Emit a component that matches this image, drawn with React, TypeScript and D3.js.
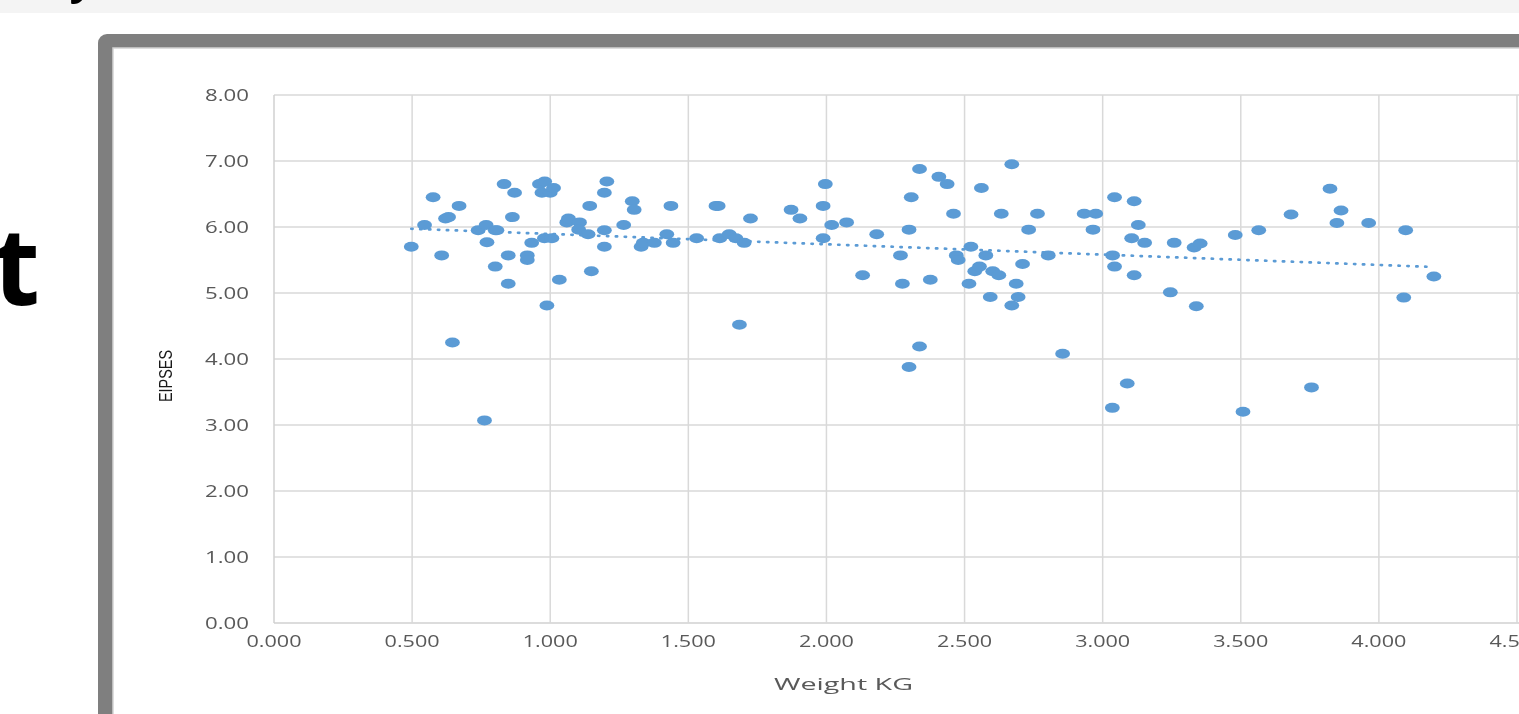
import React, { useEffect, useRef } from 'react';
import * as d3 from 'd3';

// Weight (kg) and EIPSES score for each case
const weightKg = [
  0.497, 0.545, 0.576, 0.607, 0.621, 0.632, 0.646, 0.670, 0.739, 0.768,
  0.771, 0.762, 0.801, 0.807, 0.801, 0.833, 0.848, 0.848, 0.863, 0.871,
  0.917, 0.917, 0.933, 0.961, 0.980, 0.970, 1.000, 1.012, 0.988, 0.979,
  1.006, 1.033, 1.060, 1.066, 1.106, 1.103, 1.137, 1.143, 1.149, 1.196,
  1.205, 1.196, 1.196, 1.266, 1.297, 1.304, 1.329, 1.337, 1.377, 1.422,
  1.437, 1.445, 1.530, 1.600, 1.608, 1.614, 1.648, 1.672, 1.685, 1.702,
  1.725, 1.872, 1.904, 1.996, 1.988, 1.988, 2.019, 2.073, 2.131, 2.182,
  2.268, 2.275, 2.307, 2.299, 2.299, 2.337, 2.337, 2.376, 2.407, 2.437,
  2.460, 2.470, 2.477, 2.516, 2.523, 2.537, 2.554, 2.561, 2.577, 2.593,
  2.602, 2.624, 2.633, 2.671, 2.671, 2.687, 2.694, 2.710, 2.732, 2.764,
  2.803, 2.855, 2.933, 2.975, 2.965, 3.035, 3.036, 3.043, 3.043, 3.089,
  3.105, 3.114, 3.114, 3.129, 3.152, 3.245, 3.259, 3.331, 3.353, 3.339,
  3.480, 3.508, 3.565, 3.682, 3.756, 3.823, 3.848, 3.863, 3.963, 4.090,
  4.097, 4.199
];

const eipses = [
  5.70, 6.03, 6.45, 5.57, 6.13, 6.15, 4.25, 6.32, 5.95, 6.03,
  5.77, 3.07, 5.95, 5.95, 5.40, 6.65, 5.57, 5.14, 6.15, 6.52,
  5.57, 5.50, 5.76, 6.65, 6.69, 6.52, 6.52, 6.59, 4.81, 5.83,
  5.83, 5.20, 6.07, 6.13, 6.07, 5.96, 5.89, 6.32, 5.33, 6.52,
  6.69, 5.95, 5.70, 6.03, 6.39, 6.26, 5.70, 5.76, 5.76, 5.89,
  6.32, 5.76, 5.83, 6.32, 6.32, 5.83, 5.89, 5.83, 4.52, 5.76,
  6.13, 6.26, 6.13, 6.65, 6.32, 5.83, 6.03, 6.07, 5.27, 5.89,
  5.57, 5.14, 6.45, 5.96, 3.88, 6.88, 4.19, 5.20, 6.76, 6.65,
  6.20, 5.57, 5.50, 5.14, 5.70, 5.33, 5.40, 6.59, 5.57, 4.94,
  5.33, 5.27, 6.20, 6.95, 4.81, 5.14, 4.94, 5.44, 5.96, 6.20,
  5.57, 4.08, 6.20, 6.20, 5.96, 3.26, 5.57, 6.45, 5.40, 3.63,
  5.83, 6.39, 5.27, 6.03, 5.76, 5.01, 5.76, 5.69, 5.75, 4.80,
  5.88, 3.20, 5.95, 6.19, 3.57, 6.58, 6.06, 6.25, 6.06, 4.93,
  5.95, 5.25
];

const xTicks = [0, 0.5, 1, 1.5, 2, 2.5, 3, 3.5, 4, 4.5];
const yTicks = [0, 1, 2, 3, 4, 5, 6, 7, 8];
const xTitle = 'Weight KG';
const yTitle = 'EIPSES';

const BLUE = '#5b9bd5';
const GRID = '#d9d9d9';
const LABEL = '#595959';

function App() {
  const ref = useRef(null);

  useEffect(() => {
    const svg = d3.select(ref.current);
    svg.selectAll('*').remove();

    // slide background bits
    svg.append('rect').attr('width', 1519).attr('height', 714).attr('fill', '#fff');
    svg.append('rect').attr('width', 1519).attr('height', 13).attr('fill', '#f4f4f4');
    svg.append('text')
      .attr('x', 74).attr('y', -6)
      .attr('font-family', 'Open Sans, sans-serif').attr('font-weight', 700)
      .attr('font-style', 'italic').attr('font-size', 42)
      .text('y');
    svg.append('text')
      .attr('x', 40).attr('y', 305)
      .attr('text-anchor', 'end')
      .attr('font-family', 'Open Sans, sans-serif').attr('font-weight', 700)
      .attr('font-size', 108)
      .text('t');

    // grey frame around the chart
    svg.append('rect')
      .attr('x', 98).attr('y', 34).attr('width', 1600).attr('height', 900)
      .attr('rx', 9).attr('fill', '#7f7f7f');
    svg.append('rect')
      .attr('x', 113).attr('y', 48).attr('width', 1600).attr('height', 900)
      .attr('fill', '#fff').attr('stroke', '#d4d4d4').attr('stroke-width', 1.5);

    const x = d3.scaleLinear().domain([0, 4.5]).range([274, 1517]);
    const y = d3.scaleLinear().domain([0, 8]).range([623, 95]);

    // gridlines
    svg.selectAll('hgrid')
      .data(yTicks)
      .enter()
      .append('line')
      .attr('x1', x(0)).attr('x2', 1540)
      .attr('y1', d => y(d)).attr('y2', d => y(d))
      .attr('stroke', d => d === 0 ? '#d0d0d0' : GRID)
      .attr('stroke-width', 1.5);

    svg.selectAll('vgrid')
      .data(xTicks)
      .enter()
      .append('line')
      .attr('x1', d => x(d)).attr('x2', d => x(d))
      .attr('y1', y(8)).attr('y2', y(0))
      .attr('stroke', d => d === 0 ? '#d0d0d0' : GRID)
      .attr('stroke-width', 1.5);

    // tick labels
    svg.selectAll('ylabels')
      .data(yTicks)
      .enter()
      .append('text')
      .attr('x', 249).attr('y', d => y(d) + 6)
      .attr('text-anchor', 'end')
      .attr('font-family', 'Open Sans, sans-serif').attr('font-size', 17)
      .attr('fill', LABEL)
      .attr('textLength', 44).attr('lengthAdjust', 'spacingAndGlyphs')
      .text(d => d3.format('.2f')(d));

    svg.selectAll('xlabels')
      .data(xTicks)
      .enter()
      .append('text')
      .attr('x', d => x(d)).attr('y', 647)
      .attr('text-anchor', 'middle')
      .attr('font-family', 'Open Sans, sans-serif').attr('font-size', 16)
      .attr('fill', LABEL)
      .attr('textLength', 55).attr('lengthAdjust', 'spacingAndGlyphs')
      .text(d => d3.format('.3f')(d));

    // axis titles
    svg.append('text')
      .attr('x', 843.5).attr('y', 690)
      .attr('text-anchor', 'middle')
      .attr('font-family', 'Open Sans, sans-serif').attr('font-size', 17)
      .attr('fill', LABEL)
      .attr('textLength', 139).attr('lengthAdjust', 'spacingAndGlyphs')
      .text(xTitle);

    svg.append('text')
      .attr('transform', 'translate(172 376) rotate(-90)')
      .attr('text-anchor', 'middle')
      .attr('font-family', 'Liberation Sans Narrow, Arial Narrow, sans-serif')
      .attr('font-size', 19)
      .attr('fill', '#1a1a1a')
      .attr('textLength', 52).attr('lengthAdjust', 'spacingAndGlyphs')
      .text(yTitle);

    // points
    const pts = weightKg.map((w, i) => [w, eipses[i]]);
    svg.selectAll('dots')
      .data(pts)
      .enter()
      .append('ellipse')
      .attr('cx', d => x(d[0])).attr('cy', d => y(d[1]))
      .attr('rx', 7.4).attr('ry', 5)
      .attr('fill', BLUE);

    // linear trendline (least squares)
    const mx = d3.mean(weightKg);
    const my = d3.mean(eipses);
    const sxy = d3.sum(pts, d => (d[0] - mx) * (d[1] - my));
    const sxx = d3.sum(weightKg, w => (w - mx) * (w - mx));
    const slope = sxy / sxx;
    const icpt = my - slope * mx;
    const ext = d3.extent(weightKg);
    const line = d3.line().x(d => x(d)).y(d => y(icpt + slope * d));

    svg.append('path')
      .attr('d', line(ext))
      .attr('fill', 'none')
      .attr('stroke', BLUE)
      .attr('stroke-width', 2.7)
      .attr('stroke-linecap', 'round')
      .attr('stroke-dasharray', '1.3 7.6');
  }, []);

  return (
    <div style={{ position: 'fixed', left: 0, top: 0, width: 1519, height: 714, overflow: 'hidden' }}>
      <svg ref={ref} width={1519} height={714} style={{ display: 'block' }} />
    </div>
  );
}

export default App;
